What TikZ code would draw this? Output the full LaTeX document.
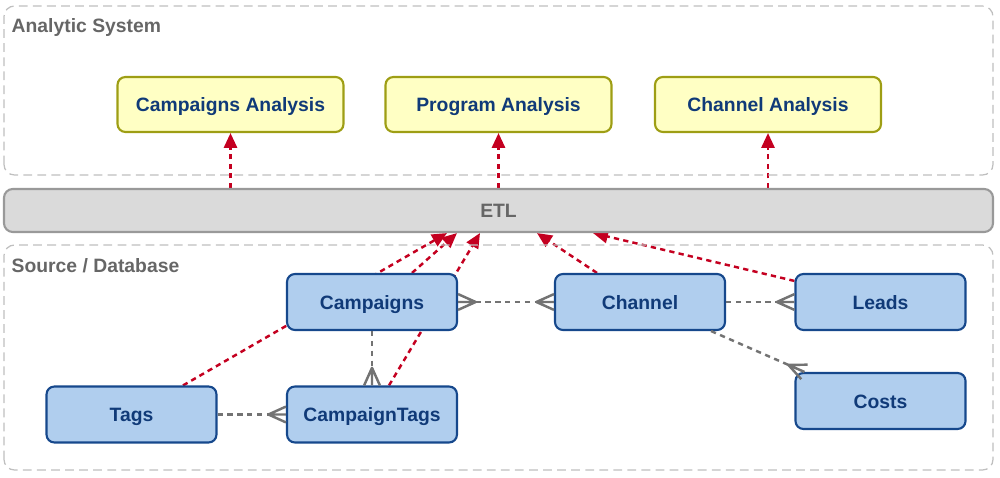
\documentclass[tikz,border=0pt]{standalone}
\usepackage{fontspec}
\setmainfont{Liberation Sans}
\usepackage{tikz}
\usetikzlibrary{arrows.meta,backgrounds}
\definecolor{boxblue}{RGB}{176,206,238}
\definecolor{lineblue}{RGB}{22,72,140}
\definecolor{textblue}{RGB}{16,58,120}
\definecolor{boxyellow}{RGB}{255,255,196}
\definecolor{lineolive}{RGB}{158,158,20}
\definecolor{etlgray}{RGB}{218,218,218}
\definecolor{linkred}{RGB}{196,0,32}
% crow's foot
\pgfdeclarearrow{
  name = Crow,
  parameters = {\the\pgfarrowlength,\the\pgfarrowwidth,\the\pgfarrowlinewidth},
  setup code = {
    \pgfarrowssettipend{0pt}
    \pgfarrowssetbackend{-\pgfarrowlength}
    \pgfarrowssetlineend{-\pgfarrowlength}
    \pgfarrowssavethe\pgfarrowlength
    \pgfarrowssavethe\pgfarrowwidth
  },
  drawing code = {
    \pgfsetdash{}{0pt}
    \pgfsetroundjoin
    \pgfpathmoveto{\pgfpoint{0pt}{0.5\pgfarrowwidth}}
    \pgfpathlineto{\pgfpoint{-\pgfarrowlength}{0pt}}
    \pgfpathlineto{\pgfpoint{0pt}{-0.5\pgfarrowwidth}}
    \pgfpathmoveto{\pgfpoint{0pt}{0pt}}
    \pgfpathlineto{\pgfpoint{-\pgfarrowlength}{0pt}}
    \pgfusepathqstroke
  },
  defaults = {length=10pt, width=9pt}
}
\tikzstyle{table} = [rectangle, rounded corners=4.5pt, minimum width=3.4cm, minimum height=1.12cm, text height=8pt, text depth=0pt, draw=lineblue, line width=1.2pt, fill=boxblue, text=textblue, font=\fontsize{11}{13}\selectfont\bfseries]
\tikzstyle{report} = [table, minimum width=4.52cm, minimum height=1.1cm, draw=lineolive, fill=boxyellow]
\tikzstyle{frame} = [draw=black!25, line width=0.7pt, dash pattern=on 5pt off 3pt, rounded corners=6pt]
\tikzstyle{feed} = [linkred, line width=1.4pt, dash pattern=on 3pt off 2.4pt, -{Triangle[length=8.5pt,width=7.5pt]}]
\tikzstyle{rel} = [black!55, line width=1.4pt, dash pattern=on 3pt off 2.6pt]
\tikzstyle{many} = [-{Crow}]

\begin{document}
\begin{tikzpicture}[every node/.style={font=\fontsize{11}{13}\selectfont\bfseries}]
    \useasboundingbox (0,0) rectangle (20,9.56);
    % frames
    \draw[frame] (0.08,6.06) rectangle (19.86,9.44);
    \draw[frame] (0.08,0.16) rectangle (19.86,4.66);
    \node[anchor=base west, text=black!60] (analytic) at (0.11,8.9) {Analytic System};
    \node[anchor=base west, text=black!60] (source) at (0.11,4.1) {Source / Database};
    % analysis
    \node[report] (campana) at (4.61,7.47) {Campaigns Analysis};
    \node[report] (progana) at (9.97,7.47) {Program Analysis};
    \node[report] (chanana) at (15.36,7.47) {Channel Analysis};
    % etl
    \node[rectangle, rounded corners=5pt, minimum width=19.78cm, minimum height=0.86cm, text height=8pt, text depth=0pt, draw=black!40, line width=1.2pt, fill=etlgray, text=black!60] (etl) at (9.97,5.35) {ETL};
    % tables
    \node[table] (campaigns) at (7.44,3.52) {Campaigns};
    \node[table] (channel) at (12.8,3.52) {Channel};
    \node[table] (leads) at (17.61,3.52) {Leads};
    \node[table] (costs) at (17.61,1.54) {Costs};
    \node[table] (tags) at (2.63,1.27) {Tags};
    \node[table] (camptags) at (7.44,1.27) {CampaignTags};

    \begin{scope}[on background layer]
    \draw[feed] (etl.north -| campana) -- (campana.south);
    \draw[feed] (etl.north -| progana) -- (progana.south);
    \draw[feed] (etl.north -| chanana) -- (chanana.south);
    \draw[feed] ([xshift=1.03cm]tags.north) -- ([xshift=-1.03cm]etl.south);
    \draw[feed] ([xshift=0.8cm]campaigns.north) -- ([xshift=-0.83cm]etl.south);
    \draw[feed] ([xshift=0.34cm]camptags.north) -- ([xshift=-0.37cm]etl.south);
    \draw[feed] ([xshift=-0.86cm]channel.north) -- ([xshift=0.77cm]etl.south);
    \draw[feed] ([yshift=-0.16cm]leads.north west) -- ([xshift=1.89cm]etl.south);
    \end{scope}
    % relations
    \draw[rel, {Crow}-{Crow}] (campaigns.east) -- (channel.west);
    \draw[rel, many] (channel.east) -- (leads.west);
    \draw[rel, many] ([xshift=-0.3cm]channel.south east) -- ([xshift=0.2cm]costs.north west);
    \draw[rel, many] (campaigns.south) -- (camptags.north);
    \draw[rel, many] (tags.east) -- (camptags.west);
\end{tikzpicture}
\end{document}
